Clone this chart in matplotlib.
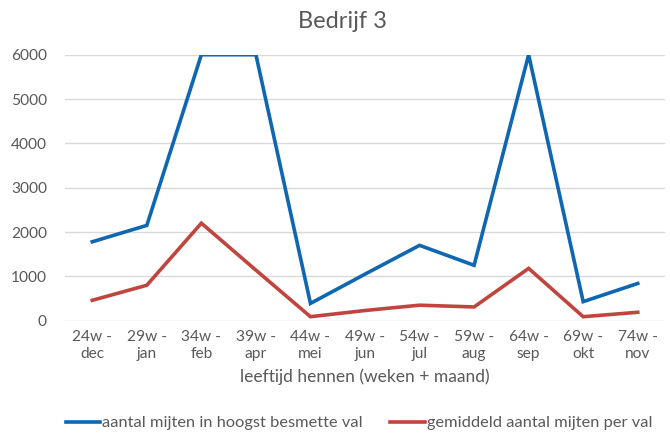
import matplotlib
matplotlib.use("Agg")
import matplotlib.pyplot as plt

plt.rcParams['font.family'] = ['Lato', 'DejaVu Sans']

categories = ["24w -\ndec", "29w -\njan", "34w -\nfeb", "39w -\napr", "44w -\nmei", "49w -\njun",
              "54w -\njul", "59w -\naug", "64w -\nsep", "69w -\nokt", "74w -\nnov"]
hoogst = [1780, 2150, 6000, 6000, 390, 1050, 1700, 1250, 6000, 430, 840]
gemiddeld = [460, 800, 2200, 1140, 90, 230, 350, 310, 1180, 90, 190]
yticks = [0, 1000, 2000, 3000, 4000, 5000, 6000]

title = "Bedrijf 3"
xlabel = "leeftijd hennen (weken + maand)"
label_blue = "aantal mijten in hoogst besmette val"
label_red = "gemiddeld aantal mijten per val"

grey = "#595959"
fig = plt.figure(figsize=(6.7, 4.34), dpi=100)
ax = fig.add_axes([65/670, 1-320.7/434, 600/670, (320.7-54.7)/434])

x = list(range(len(categories)))
ax.plot(x, hoogst, color="#0F67B1", lw=2.6, label=label_blue, solid_joinstyle='miter')
ax.plot(x, gemiddeld, color="#C0453F", lw=2.6, label=label_red, solid_joinstyle='miter')

ax.set_xlim(-0.5, len(categories)-0.5)
ax.set_ylim(0, 6000)
ax.set_yticks(yticks)
ax.set_yticklabels([str(v) for v in yticks])
ax.set_xticks(x)
ax.set_xticklabels(categories)
ax.grid(axis='y', color="#d9d9d9", lw=1)
ax.set_axisbelow(True)
for s in ax.spines.values():
    s.set_visible(False)
ax.tick_params(axis='both', length=0, labelsize=11.2, colors=grey)
ax.tick_params(axis='x', pad=7)
ax.tick_params(axis='y', pad=13)
for lbl in ax.get_xticklabels():
    lbl.set_linespacing(1.25)

ax.set_xlabel(xlabel, fontsize=12.5, color=grey, labelpad=5)
fig.text(342/670, 1-21/434, title, ha='center', va='center', fontsize=17, color=grey)

fig.legend(loc='center', bbox_to_anchor=(359/670, 1-423/434), ncol=2, frameon=False,
           fontsize=11.8, handlelength=2.1, handletextpad=0.1, columnspacing=1.7,
           labelcolor=grey)

fig.savefig("out.png", dpi=100)
